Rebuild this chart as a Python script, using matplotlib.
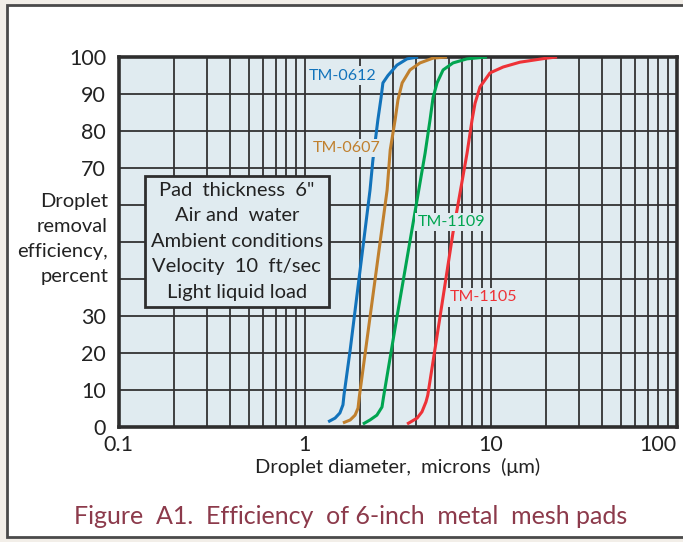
import matplotlib
matplotlib.use("Agg")
import matplotlib.pyplot as plt
from matplotlib.patches import Rectangle
from matplotlib.ticker import FixedLocator, NullFormatter

plt.rcParams['font.family'] = ['Lato', 'DejaVu Sans']

# droplet diameter (microns) vs removal efficiency (%)
tm0612_x = [1.34, 1.46, 1.55, 1.61, 1.63, 1.76, 2.25, 2.33, 2.48, 2.58, 2.64, 2.81, 3.14, 3.56, 4.08]
tm0612_y = [1.4, 2.4, 3.8, 6.0, 8.6, 20.8, 64.0, 72.0, 83.0, 89.0, 93.0, 95.0, 97.8, 99.5, 100.0]

tm0607_x = [1.61, 1.76, 1.87, 1.94, 1.97, 2.78, 2.89, 3.07, 3.18, 3.35, 3.69, 4.18, 4.91, 5.84]
tm0607_y = [1.1, 1.9, 3.2, 5.1, 8.1, 64.0, 74.9, 83.0, 88.4, 93.0, 96.5, 98.4, 99.7, 100.0]

tm1109_x = [2.06, 2.25, 2.45, 2.61, 2.66, 3.14, 4.03, 4.45, 4.73, 4.91, 5.16, 5.56, 6.29, 7.47, 9.58]
tm1109_y = [0.8, 1.9, 3.2, 5.4, 8.1, 29.7, 61.4, 74.0, 83.0, 89.0, 93.0, 96.5, 98.4, 99.5, 100.0]

tm1105_x = [3.56, 4.03, 4.28, 4.50, 4.60, 5.35, 6.28, 7.48, 7.96, 8.26, 8.78, 9.94, 11.7, 14.4, 20.1, 22.8]
tm1105_y = [0.8, 2.4, 4.1, 6.8, 8.6, 29.7, 52.4, 74.0, 83.0, 87.5, 91.9, 95.7, 97.3, 98.6, 99.7, 100.0]

series = [
    ("TM-0612", tm0612_x, tm0612_y, "#1273bb", (1.61, 95)),
    ("TM-0607", tm0607_x, tm0607_y, "#c0802e", (1.69, 75.4)),
    ("TM-1109", tm1109_x, tm1109_y, "#00a550", (6.14, 55.4)),
    ("TM-1105", tm1105_x, tm1105_y, "#ee3237", (9.22, 35.1)),
]

y_ticks = [0, 10, 20, 30, 40, 50, 60, 70, 80, 90, 100]
y_tick_labels = ["0", "10", "20", "30", "", "", "", "70", "80", "90", "100"]
x_ticks = [0.1, 1, 10, 100]
x_tick_labels = ["0.1", "1", "10", "100"]

conditions = ('Pad  thickness  6"\nAir and  water\nAmbient conditions\n'
              'Velocity  10  ft/sec\nLight liquid load')

W, H = 683, 542
fig = plt.figure(figsize=(W / 100, H / 100), dpi=100)
fig.patch.set_facecolor("#f2eee8")

# white panel with dark border
panel = Rectangle((7 / W, 5 / H), 690 / W, 532 / H, transform=fig.transFigure,
                  facecolor="white", edgecolor="#4a4a4a", linewidth=2, zorder=-5)
fig.add_artist(panel)

bg = "#e0ebf0"
grid_c = "#333333"
ax = fig.add_axes([118.5 / W, 115 / H, 558 / W, 370 / H])
ax.set_zorder(1)
ax.set_facecolor(bg)
ax.set_xscale("log")
ax.set_xlim(0.1, 100)
ax.set_ylim(0, 100)

minor = [m * 10 ** e for e in (-1, 0, 1) for m in range(2, 10)]
ax.xaxis.set_major_locator(FixedLocator(x_ticks))
ax.xaxis.set_minor_locator(FixedLocator(minor))
ax.xaxis.set_minor_formatter(NullFormatter())
ax.set_xticks(x_ticks)
ax.set_xticklabels(x_tick_labels)
ax.set_yticks(y_ticks)
ax.set_yticklabels(y_tick_labels)
ax.tick_params(which="both", length=0, labelsize=15.5, colors="#222222")
ax.tick_params(axis="x", pad=6)
ax.tick_params(axis="y", pad=9)
ax.get_xticklabels()[-1].set_ha("right")
ax.grid(True, which="both", color=grid_c, linewidth=1.3)
for s in ax.spines.values():
    s.set_linewidth(2.6)
    s.set_color("#2e2e2e")
ax.set_axisbelow(True)

for name, xs, ys, col, (lx, ly) in series:
    ax.plot(xs, ys, color=col, linewidth=2.2, solid_capstyle="butt",
            solid_joinstyle="round", zorder=3)
    ax.text(lx, ly, name, color=col, fontsize=11.5, ha="center", va="center", zorder=4,
            bbox=dict(boxstyle="square,pad=0.15", facecolor=bg, edgecolor="none"))

ax.text(0.212, 0.502, conditions, transform=ax.transAxes, ha="center", va="center",
        fontsize=14.5, linespacing=1.6, color="#222222", zorder=5,
        bbox=dict(boxstyle="square,pad=0.3", facecolor=bg, edgecolor="#2e2e2e", linewidth=2))

fig.text(108 / W, 1 - 239 / H, "Droplet\nremoval\nefficiency,\npercent", ha="right",
         va="center", fontsize=14.5, linespacing=1.55, color="#222222")
ax.set_xlabel("Droplet diameter,  microns  (\u03bcm)", fontsize=14.5, color="#222222",
              labelpad=2)

fig.text(351 / W, 1 - 517 / H, "Figure  A1.  Efficiency  of 6-inch  metal  mesh pads",
         ha="center", va="center", fontsize=18, color="#8c3a4b")

fig.savefig("out.png", dpi=100, facecolor=fig.get_facecolor())
